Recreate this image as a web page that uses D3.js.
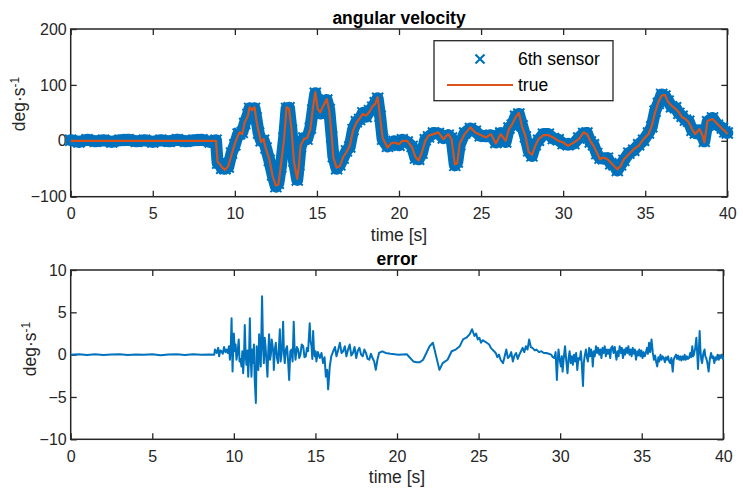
<!DOCTYPE html>
<html><head><meta charset="utf-8">
<script src="https://cdn.jsdelivr.net/npm/d3@7"></script>
<style>
html,body{margin:0;padding:0;background:#fff;}
svg{display:block;font-family:"Liberation Sans",Arial,Helvetica,sans-serif;}
</style></head>
<body>
<svg id="chart" width="743" height="499"></svg>
<script>
// ---------- data ----------
const timeTop = [
  0,0.5,1,1.5,2,2.5,3,3.5,4,4.5,
  5,5.5,6,6.5,7,7.5,8,8.5,8.85,8.95,
  9.1,9.2,9.4,9.6,9.8,10.0,10.2,10.3,10.45,10.6,
  10.8,10.9,11.05,11.2,11.3,11.45,11.6,11.75,11.9,12.1,
  12.3,12.5,12.65,12.8,13.0,13.15,13.3,13.45,13.6,13.8,
  13.9,14.0,14.2,14.4,14.6,14.75,14.9,15.05,15.2,15.4,
  15.6,15.75,15.9,16.0,16.2,16.4,16.6,16.8,17.0,17.2,
  17.4,17.6,17.8,18.0,18.2,18.4,18.55,18.7,18.85,19.0,
  19.3,19.5,19.7,20.0,20.2,20.5,20.8,21.0,21.2,21.4,
  21.6,21.8,22.1,22.4,22.7,23.0,23.2,23.4,23.55,23.7,
  24.0,24.35,24.65,24.95,25.3,25.6,25.9,26.2,26.5,26.7,
  26.9,27.1,27.3,27.5,27.7,27.9,28.1,28.3,28.5,28.8,
  29.1,29.4,29.7,30.0,30.3,30.65,30.95,31.25,31.45,31.65,
  31.85,32.05,32.25,32.45,32.7,32.9,33.1,33.3,33.5,33.7,
  34.0,34.3,34.6,34.9,35.2,35.4,35.6,35.8,36.0,36.2,
  36.4,36.6,36.85,37.05,37.25,37.45,37.65,37.85,38.05,38.3,
  38.5,38.6,38.8,39.1,39.4,39.7,39.85,40.0
];
const trueVel = [
  0,0,0,0,0,0,0,0,0,0,
  0,0,0,0,0,0,0,0,0,-38,
  -42,-47,-52,-45,-25,-5,10,15,12,33,
  45,60,55,60,39,16,-2,3,-15,-33,
  -63,-80,-78,-45,3,60,57,21,-38,-68,
  -45,-9,3,5,21,57,87,57,51,63,
  75,54,9,-30,-48,-45,-29,-20,-9,18,
  32,40,48,45,52,62,66,78,42,5,
  -12,-5,-3,-6,0,0,-12,-29,-35,-20,
  0,9,12,15,3,12,3,-42,-40,-5,
  12,24,15,11,6,12,-5,12,0,21,
  30,42,50,25,9,-20,-25,-9,3,10,
  10,6,0,-3,-9,-3,3,15,12,0,
  -9,-21,-33,-30,-33,-39,-45,-51,-45,-33,
  -24,-15,-9,3,12,27,51,69,81,82,
  69,63,57,51,42,39,33,21,12,21,
  9,-3,36,39,30,21,18,12
];
const sensorVel = [
  1,-2,2,-1,1,-2,1,2,-1,1,
  -2,1,-1,2,-1,1,2,-2,1,-40,
  -40,-49,-50,-47,-22,-7,12,13,15,31,
  47,58,57,58,41,14,0,1,-13,-35,
  -61,-82,-76,-47,5,58,59,19,-36,-70,
  -43,-11,5,3,23,55,85,59,49,65,
  73,56,7,-28,-50,-43,-31,-18,-11,20,
  34,38,50,43,54,60,68,76,44,3,
  -10,-7,-1,-8,2,-2,-10,-31,-33,-22,
  2,7,14,13,5,10,5,-44,-38,-7,
  14,22,17,9,8,10,-3,14,-2,23,
  28,44,48,27,7,-18,-27,-7,1,12,
  12,4,2,-5,-7,-5,5,13,14,-2,
  -7,-23,-31,-32,-31,-41,-43,-53,-43,-35,
  -22,-17,-7,1,14,25,53,67,83,80,
  71,61,59,49,44,37,35,19,14,19,
  11,-1,34,41,28,23,16,14
];
// error samples [time s, deg/s], split by segment
const errQuiet = [
  [0,0],[0.5,0.05],[1,-0.03],[1.5,0.04],[2,-0.05],[2.5,0.02],[3,0.06],[3.5,-0.04],[4,0.03],[4.5,-0.02],
  [5,0.05],[5.5,-0.06],[6,0.02],[6.5,0.04],[7,-0.03],[7.5,0.05],[8,-0.02],[8.5,0.03],[8.8,0]
];
const errBurst = [
  [8.84,0.6],[8.95,0.2],[9.04,0.8],[9.1,-0.2],[9.17,0.5],[9.24,0.4],[9.32,0.1],[9.4,0.9],[9.48,0.3],[9.55,0.6],
  [9.62,0.2],[9.7,1.0],[9.76,-0.6],[9.81,0.8],[9.86,4.3],[9.92,-2.0],[9.96,0.6],[10.0,2.5],[10.06,0.4],[10.11,1.2],
  [10.16,-0.6],[10.23,0.3],[10.3,1.8],[10.35,-0.8],[10.4,-0.5],[10.47,-1.4],[10.52,0.4],[10.57,-2.2],[10.62,-0.5],[10.67,3.5],
  [10.72,0.2],[10.77,-1.2],[10.83,0.5],[10.88,-2.6],[10.93,-0.4],[10.98,4.3],[11.03,-0.2],[11.08,-2.6],[11.13,0.6],[11.18,-1.0],
  [11.23,1.2],[11.28,-3.0],[11.35,-5.7],[11.4,1.0],[11.43,-0.2],[11.5,-1.8],[11.55,2.4],[11.6,0.3],[11.65,-1.4],[11.73,6.9],
  [11.79,0.8],[11.84,-1.0],[11.89,2.0],[11.94,1.0],[12.0,-0.8],[12.06,-2.6],[12.11,0.4],[12.16,2.4],[12.22,-0.6],[12.27,0],
  [12.32,1.8],[12.37,1.1],[12.42,0.2],[12.45,-1.8],[12.51,0.6],[12.57,1.4],[12.64,-0.4],[12.71,-1.0],[12.76,0.8],[12.82,3.0],
  [12.87,-0.8],[12.92,0],[12.97,1.2],[13.02,3.9],[13.07,0.2],[13.12,-1.0],[13.19,0.6],[13.26,1.0],[13.32,-0.6],[13.39,-3.0],
  [13.46,0.4],[13.53,0.6],[13.6,-0.8],[13.67,3.9],[13.72,0.8],[13.78,-0.6],[13.86,0.9],[13.94,0.6],[14.01,-0.4],[14.08,0],
  [14.16,1.2],[14.25,1.0],[14.33,-0.3],[14.41,-0.2],[14.48,0.8],[14.55,0.4],[14.65,3.7],[14.7,1.6],[14.76,1.0],[14.81,-0.5],
  [14.86,2.8],[14.91,0.5],[14.96,-0.2],[15.01,0.4],[15.06,-0.8],[15.15,0.3],[15.27,-0.4],[15.37,0.2],[15.47,-1.0],[15.56,-0.3],
  [15.64,-2.6],[15.72,-1.8],[15.78,-4.1],[15.84,-2.5],[15.88,-1.4],[15.97,-0.2],[16.09,0.4],[16.2,0.9],[16.29,-0.2],[16.4,0.6],
  [16.5,1.4],[16.6,0.2],[16.7,0.4],[16.8,1.0],[16.9,-0.2],[17.0,0.6],[17.1,1.2],[17.2,-0.1],[17.3,0.2],[17.4,0.9],
  [17.5,-0.4],[17.6,0.5],[17.7,0.8],[17.8,0.0],[17.9,-0.2],[18.0,0.6],[18.1,0.2],[18.2,-0.5],[18.3,-0.6],[18.4,0.1],
  [18.5,-0.4],[18.6,-0.8],[18.7,-1.8],[18.8,-0.6],[18.9,0.2],[19.0,0.3],[19.1,0.4],[19.3,0.2],[19.6,0.1]
];
const errMid = [
  [20.1,0],[20.6,0.05],[21.0,-0.8],[21.2,-0.9],[21.4,-0.9],[21.6,-0.6],[21.8,0.2],[22.0,1.0],[22.2,1.4],[22.4,-0.2],
  [22.6,-1.8],[22.8,-1.0],[23.1,-0.6],[23.35,0.4],[23.6,0.6],[23.85,1.0],[24.05,1.8],[24.25,2.0],[24.45,2.4],[24.6,3.0],
  [24.75,2.2],[24.85,2.5],[24.95,1.8],[25.05,2.0],[25.15,1.4],[25.25,1.7],[25.35,1.6],[25.5,1.4],[25.65,1.2],[25.75,0.8],
  [25.85,0.6],[25.95,0.4],[26.05,0.2],[26.15,-0.3],[26.25,0],[26.35,-0.6],[26.5,-1.0],[26.6,-0.2],[26.7,0.6],[26.8,-0.4],
  [26.9,-0.2],[27.0,0.3],[27.1,-0.8],[27.2,-0.1],[27.3,0.2],[27.4,-0.5],[27.5,0],[27.6,0.4],[27.7,0.8],[27.8,0.3],
  [27.9,1.0],[28.0,0.6],[28.1,1.8],[28.2,0.9],[28.3,0.8],[28.45,0.5],[28.55,0.6],[28.7,0.3],[28.85,0.4],[29.0,0.2],
  [29.15,0.2],[29.3,0.1],[29.45,0],[29.55,-0.3],[29.65,-0.4]
];
const errLate = [
  [29.72,0.3],[29.8,-3.0],[29.85,-0.8],[29.9,0.6],[29.97,-0.6],[30.05,-1.4],[30.1,-0.2],[30.15,-2.0],[30.22,-0.4],[30.3,1.0],
  [30.37,-0.6],[30.45,-2.2],[30.52,-0.4],[30.58,0.4],[30.65,-1.0],[30.72,-0.2],[30.78,-1.2],[30.85,0],[30.92,-0.8],[30.98,0.2],
  [31.05,-1.8],[31.12,-0.4],[31.2,-0.6],[31.27,0.4],[31.33,-1.2],[31.4,-3.7],[31.45,-1.0],[31.5,-0.2],[31.58,0.6],[31.65,-0.4],
  [31.7,-0.8],[31.78,0.8],[31.84,-0.2],[31.9,0.6],[31.95,0.1],[32.0,-1.4],[32.06,0.4],[32.12,-0.2],[32.2,1.0],[32.27,0.2],
  [32.33,0.8],[32.4,0],[32.47,0.6],[32.53,-0.4],[32.6,0.8],[32.67,0.2],[32.73,1.0],[32.8,-0.2],[32.87,0.6],[32.93,0.1],
  [33.0,0.6],[33.07,-0.4],[33.13,0.8],[33.2,1.0],[33.27,0.2],[33.35,0.9],[33.45,-0.6],[33.52,0.4],[33.58,-0.2],[33.65,1.0],
  [33.72,0.2],[33.78,0.8],[33.85,-0.4],[33.92,0.6],[33.98,0],[34.05,0.8],[34.12,0.2],[34.18,1.0],[34.25,0],[34.32,0.6],
  [34.38,-0.2],[34.45,0.8],[34.52,0.1],[34.58,0.6],[34.65,-0.6],[34.72,0.4],[34.78,-0.1],[34.85,0.6],[34.92,-0.2],[34.98,0.5],
  [35.05,-0.4],[35.12,0.3],[35.18,-0.2],[35.25,0.2],[35.32,0.8],[35.38,0.1],[35.45,1.4],[35.52,0.3],[35.6,1.8],[35.68,0.2],
  [35.75,-0.6],[35.82,-0.1],[35.88,-0.8],[35.95,-1.4],[36.02,-0.3],[36.08,-0.8],[36.15,0],[36.22,-0.6],[36.28,-0.2],[36.35,-0.4],
  [36.42,-0.9],[36.48,-0.3],[36.55,-0.6],[36.62,-0.2],[36.68,-0.8],[36.75,-1.0],[36.82,-0.4],[36.9,-2.0],[36.96,-0.6],[37.02,-0.3],
  [37.1,0],[37.17,-0.5],[37.23,-0.1],[37.3,-0.6],[37.37,-0.2],[37.43,-0.7],[37.5,-0.2],[37.57,-0.6],[37.63,0],[37.7,-0.6],
  [37.77,-0.2],[37.83,-0.5],[37.9,-0.4],[37.97,0.2],[38.03,-0.3],[38.1,1.0],[38.15,-0.2],[38.2,0],[38.28,0.8],[38.35,2.0],
  [38.4,0.2],[38.45,-1.7],[38.5,0.4],[38.55,2.8],[38.6,0.5],[38.65,-0.6],[38.7,-1.0],[38.78,0.2],[38.85,0.6],[38.9,-0.2],
  [38.95,-0.4],[39.02,-0.9],[39.1,-2.0],[39.17,-0.6],[39.25,0.2],[39.32,-0.4],[39.38,-0.2],[39.45,-1.0],[39.52,-0.3],[39.58,-0.6],
  [39.65,0],[39.72,-0.6],[39.78,-0.2],[39.85,-0.4],[39.92,0],[40.0,-0.6]
];
const xTicks = [0,5,10,15,20,25,30,35,40];
const yTicksTop = [-100,0,100,200];
const yTicksBottom = [-10,-5,0,5,10];
const legendLabels = ["6th sensor","true"];

// ---------- style ----------
const BLUE = "#0072BD", ORANGE = "#D95319", AX = "#262626";
const LABEL_FS = "17.5px";
const svg = d3.select("#chart");

function panel(cfg){
  const g = svg.append("g");
  const x = d3.scaleLinear().domain([0,40]).range([cfg.x0,cfg.x1]);
  const y = d3.scaleLinear().domain(cfg.ydom).range([cfg.y1,cfg.y0]);
  const fs = "16px";
  const ab = g.append("g").attr("transform",`translate(0,${cfg.y1})`)
    .call(d3.axisBottom(x).tickValues(xTicks).tickSize(-6).tickPadding(11).tickFormat(d3.format("d")));
  const at = g.append("g").attr("transform",`translate(0,${cfg.y0})`)
    .call(d3.axisTop(x).tickValues(xTicks).tickSize(-6).tickFormat(""));
  const al = g.append("g").attr("transform",`translate(${cfg.x0},0)`)
    .call(d3.axisLeft(y).tickValues(cfg.yticks).tickSize(-6).tickPadding(4).tickFormat(d3.format("d")));
  const ar = g.append("g").attr("transform",`translate(${cfg.x1},0)`)
    .call(d3.axisRight(y).tickValues(cfg.yticks).tickSize(-6).tickFormat(""));
  [ab,at,al,ar].forEach(a=>{
    a.select(".domain").remove();
    a.selectAll("line").attr("stroke",AX).attr("stroke-width",1.3);
    a.selectAll("text").attr("fill",AX).style("font-size",fs)
      .style("font-family","'Liberation Sans',Arial,sans-serif");
  });
  g.append("rect").attr("x",cfg.x0).attr("y",cfg.y0)
    .attr("width",cfg.x1-cfg.x0).attr("height",cfg.y1-cfg.y0)
    .attr("fill","none").attr("stroke",AX).attr("stroke-width",1.5);
  g.append("text").attr("x",(cfg.x0+cfg.x1)/2).attr("y",cfg.y0-5)
    .attr("text-anchor","middle").attr("font-weight","bold")
    .style("font-size",LABEL_FS).attr("fill","#000").text(cfg.title);
  g.append("text").attr("x",(cfg.x0+cfg.x1)/2).attr("y",cfg.y1+44)
    .attr("text-anchor","middle").style("font-size",LABEL_FS).attr("fill",AX).text("time [s]");
  const yl = g.append("text")
    .attr("transform",`translate(${cfg.ylx},${cfg.ylc}) rotate(-90)`)
    .attr("text-anchor","middle").style("font-size",LABEL_FS).attr("fill",AX);
  yl.append("tspan").text("deg·s");
  yl.append("tspan").attr("dy","-0.5em").style("font-size","12px").text("-1");
  return {g,x,y};
}

// ---------- top panel ----------
const topP = panel({x0:70.7,x1:727.3,y0:29,y1:196.7,ydom:[-100,200],yticks:yTicksTop,
  title:"angular velocity",ylx:25,ylc:104});
const sensorPts = timeTop.map((t,i)=>[t,sensorVel[i]]);
const truePts = timeTop.map((t,i)=>[t,trueVel[i]]);
const lineTop = d3.line().x(d=>topP.x(d[0])).y(d=>topP.y(d[1]));
topP.g.append("path").datum(sensorPts).attr("d",lineTop)
  .attr("fill","none").attr("stroke",BLUE).attr("stroke-width",12)
  .attr("stroke-linejoin","round").attr("stroke-linecap","round");
const ms = 5.5;
topP.g.append("g").selectAll("path").data(sensorPts).join("path")
  .attr("d",d=>{const cx=topP.x(d[0]),cy=topP.y(d[1]);
    return `M${cx-ms},${cy-ms}L${cx+ms},${cy+ms}M${cx-ms},${cy+ms}L${cx+ms},${cy-ms}`;})
  .attr("stroke",BLUE).attr("stroke-width",2).attr("fill","none");
topP.g.append("path").datum(truePts).attr("d",lineTop)
  .attr("fill","none").attr("stroke",ORANGE).attr("stroke-width",2.2)
  .attr("stroke-linejoin","round");

// legend
const lg = topP.g.append("g");
lg.append("rect").attr("x",434).attr("y",40.7).attr("width",179).attr("height",60)
  .attr("fill","#fff").attr("stroke",AX).attr("stroke-width",1.3);
lg.append("path").attr("d",`M${480-4.5},${59-4.5}L${480+4.5},${59+4.5}M${480-4.5},${59+4.5}L${480+4.5},${59-4.5}`)
  .attr("stroke",BLUE).attr("stroke-width",2.2);
lg.append("line").attr("x1",447).attr("x2",513).attr("y1",85).attr("y2",85)
  .attr("stroke",ORANGE).attr("stroke-width",2);
lg.selectAll("text.lab").data(legendLabels).join("text").attr("class","lab")
  .attr("x",518).attr("y",(d,i)=>i===0?65:91).style("font-size",LABEL_FS).attr("fill","#000").text(d=>d);

// ---------- bottom panel ----------
const botP = panel({x0:70.7,x1:723.3,y0:270,y1:439.3,ydom:[-10,10],yticks:yTicksBottom,
  title:"error",ylx:36,ylc:349});
const errPts = errQuiet.concat(errBurst, errMid, errLate);
botP.g.append("path").datum(errPts)
  .attr("d",d3.line().x(d=>botP.x(d[0])).y(d=>botP.y(d[1])))
  .attr("fill","none").attr("stroke",BLUE).attr("stroke-width",2).attr("stroke-linejoin","round");
</script>
</body></html>
